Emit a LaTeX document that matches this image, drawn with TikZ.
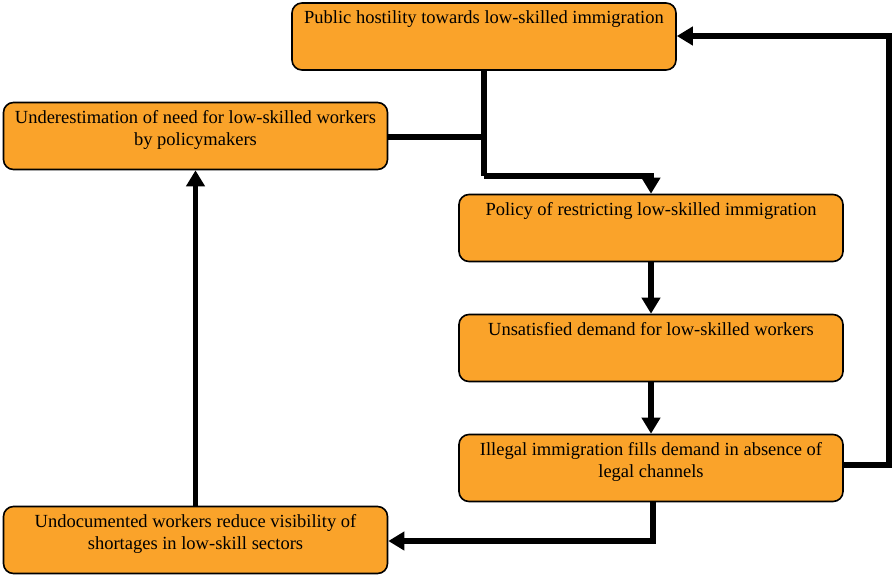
\documentclass[tikz,border=0pt]{standalone}
\usepackage{fontspec}
\setmainfont{Liberation Serif}
\usetikzlibrary{arrows.meta}
\definecolor{boxfill}{RGB}{250,163,42}
\tikzset{
  box/.style={draw=black, line width=1.6pt, rounded corners=10pt, fill=boxfill, inner sep=0pt, minimum width=384pt, minimum height=67pt},
  conn/.style={line width=5.5pt, -{Triangle[length=16pt,width=18pt]}},
  plain/.style={line width=5.5pt}
}
\newcommand{\boxtext}[1]{\parbox[c][67pt][t]{384pt}{\centering\fontsize{18.5}{22}\selectfont\vspace{8pt}#1}}
\begin{document}
\begin{tikzpicture}[x=1pt,y=-1pt]
\useasboundingbox (0,0) rectangle (893,576);
\node[box] (pub) at (484,36.5) {\boxtext{Public hostility towards low-skilled immigration}};
\node[box] (und) at (195.5,136) {\boxtext{Underestimation of need for low-skilled workers\\by policymakers}};
\node[box] (pol) at (651,228) {\boxtext{Policy of restricting low-skilled immigration}};
\node[box] (uns) at (651,348) {\boxtext{Unsatisfied demand for low-skilled workers}};
\node[box] (ill) at (651,468) {\boxtext{Illegal immigration fills demand in absence of\\legal channels}};
\node[box] (doc) at (195.5,540) {\boxtext{Undocumented workers reduce visibility of\\shortages in low-skill sectors}};
\coordinate (j1) at (484,137);
\coordinate (j2) at (484,176);
\coordinate (j3) at (651,176);
\coordinate (r1) at (889,465);
\coordinate (r2) at (889,36);
\coordinate (b1) at (653,541);
\draw[plain] (pub.south -| j1) -- (j2);
\draw[plain] (und.east |- j1) -- (j1);
\draw[conn] (j2) -- (j3) -- (pol.north);
\draw[conn] (pol) -- (uns);
\draw[conn] (uns) -- (ill);
\draw[conn] (ill.east |- r1) -- (r1) -- (r2) -- (pub.east |- r2);
\draw[conn] (ill.south -| b1) -- (b1) -- (doc.east |- b1);
\draw[conn] (doc.north) -- (und.south);
\end{tikzpicture}
\end{document}
